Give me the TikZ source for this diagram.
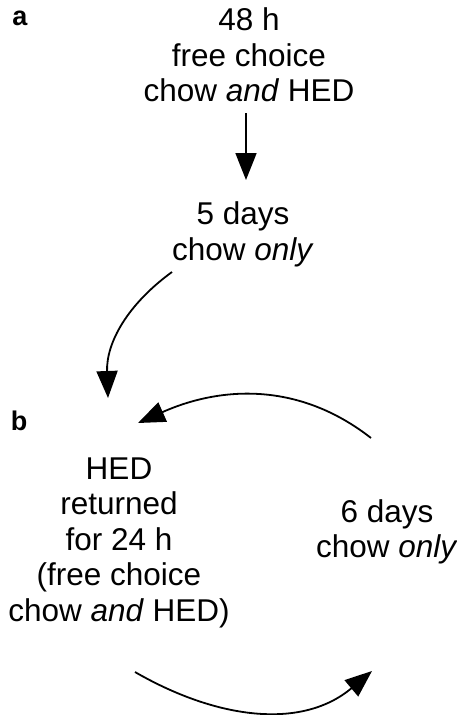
\documentclass[tikz,border=0pt]{standalone}
\usepackage{fontspec}
\setmainfont{Liberation Sans}
\usetikzlibrary{arrows.meta}
\tikzset{
  txt/.style={font=\fontsize{31.5}{35.5}\selectfont, align=center, inner sep=0pt},
  lbl/.style={font=\fontsize{27}{29}\selectfont\bfseries, inner sep=0pt, anchor=base},
  arr/.style={line width=1.8pt, -{Triangle[length=27pt,width=21pt]}}
}
\begin{document}
\begin{tikzpicture}[x=1pt,y=1pt]
\useasboundingbox (0,0) rectangle (457,-715);
\node[lbl] (la) at (20,-25.5) {a};
\node[lbl] (lb) at (19,-430) {b};
\node[txt] (t1) at (249,-55) {48 h\\free choice\\chow \textit{and} HED};
\node[txt] (t2) at (243,-234.5) {5 days\\chow \textit{only}};
\node[txt] (t3) at (119,-542.5) {HED\\returned\\for 24 h\\(free choice\\chow \textit{and} HED)};
\node[txt] (t4) at (387,-532) {6 days\\chow \textit{only}};
\coordinate (a1s) at (246,-113);
\coordinate (a1e) at (246,-180);
\coordinate (a2s) at (172,-272);
\coordinate (a2e) at (108,-398);
\coordinate (a3s) at (371,-438);
\coordinate (a3e) at (138,-423);
\coordinate (a4s) at (135,-672);
\coordinate (a4e) at (372,-671);
\draw[arr] (a1s) -- (a1e);
\draw[arr] (a2s) to[out=216,in=92] (a2e);
\draw[arr] (a3s) to[out=142,in=24] (a3e);
\draw[arr] (a4s) to[out=-30,in=220] (a4e);
\end{tikzpicture}
\end{document}
